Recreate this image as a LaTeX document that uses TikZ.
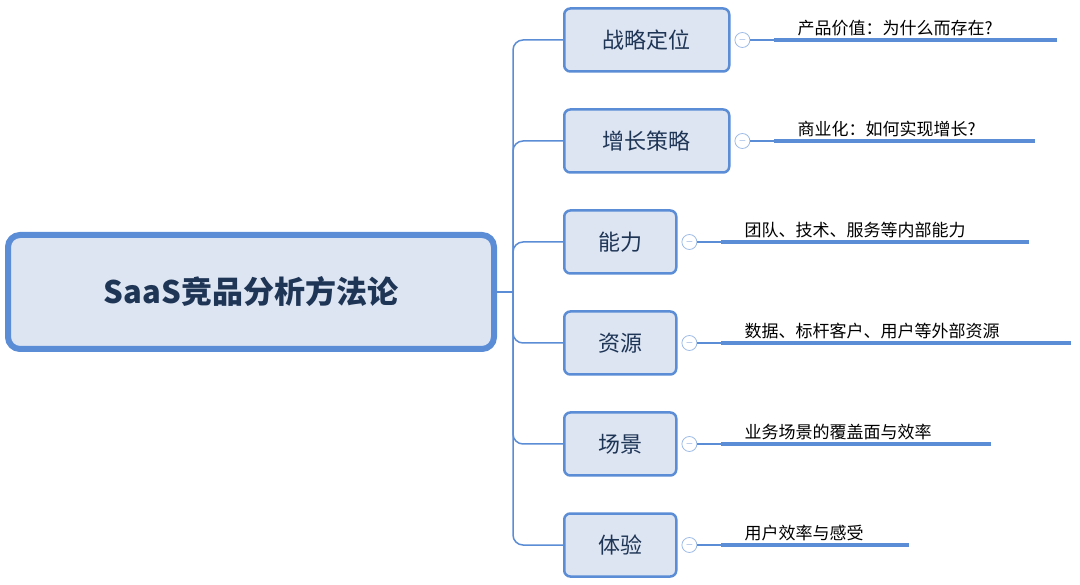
\documentclass[tikz,border=0pt]{standalone}
\usepackage{fontspec}
\newfontfamily\cjk{Noto Sans CJK SC}
\usetikzlibrary{positioning}
\definecolor{mmblue}{HTML}{5B8DD6}
\definecolor{mmfill}{HTML}{DDE5F2}
\definecolor{mmtext}{HTML}{1F3556}
\begin{document}
\begin{tikzpicture}[x=1pt, y=-1pt,
    root/.style={draw=mmblue, line width=6pt, fill=mmfill, rounded corners=12pt, minimum width=486pt, minimum height=114pt, font=\cjk\fontsize{31}{34}\selectfont\bfseries, text=mmtext},
    topic/.style={draw=mmblue, line width=2.5pt, fill=mmfill, rounded corners=6pt, minimum height=63pt, font=\cjk\fontsize{22}{25}\selectfont, text=mmtext, anchor=west},
    fold/.style={circle, draw=mmblue!60, fill=white, line width=0.8pt, minimum size=15pt, inner sep=0pt, font=\fontsize{10}{10}\selectfont, text=mmblue},
    leaf/.style={font=\cjk\fontsize{17}{20}\selectfont, anchor=south west, inner sep=1pt},
    branch/.style={draw=mmblue, line width=1.5pt, rounded corners=10pt},
    under/.style={draw=mmblue, line width=4pt}]
\useasboundingbox (0,0) rectangle (1080,585);

% central topic
\node[root] (root) at (251,292) {SaaS竞品分析方法论};
\coordinate (trunk) at (513,292);

% main branches
\node[topic, minimum width=165pt] (t1) at (563,40) {战略定位};
\node[topic, minimum width=165pt] (t2) at (563,141) {增长策略};
\node[topic, minimum width=112pt] (t3) at (563,242) {能力};
\node[topic, minimum width=112pt] (t4) at (563,343) {资源};
\node[topic, minimum width=112pt] (t5) at (563,444) {场景};
\node[topic, minimum width=112pt] (t6) at (563,545) {体验};

\draw[branch] (root.east) -- (trunk);
\foreach \t in {t1,t2,t3,t4,t5,t6}
  \draw[branch] (trunk) |- (\t.west);

% fold markers and sub topics
\foreach \t/\len/\txt in {t1/283/产品价值：为什么而存在?, t2/261/商业化：如何实现增长?, t3/308/团队、技术、服务等内部能力, t4/350/数据、标杆客户、用户等外部资源, t5/270/业务场景的覆盖面与效率, t6/188/用户效率与感受}{
  \node[fold, right=4pt of \t.east] (f\t) {$-$};
  \coordinate[right=32pt of f\t.center] (s\t);
  \coordinate (e\t) at ([xshift=\len pt]s\t);
  \draw[mmblue, line width=1.2pt] (f\t) -- (s\t);
  \draw[under] (s\t) -- (e\t);
  \node[leaf] (l\t) at ([xshift=22pt, yshift=3pt]s\t) {\txt};
}
\end{tikzpicture}
\end{document}
